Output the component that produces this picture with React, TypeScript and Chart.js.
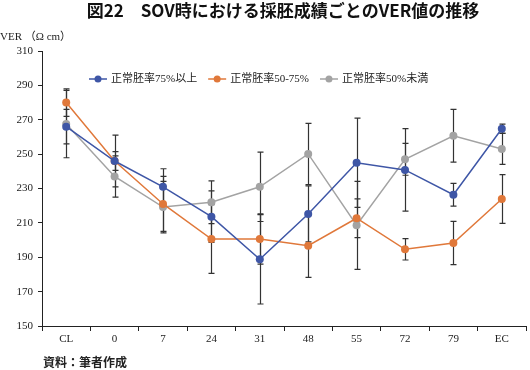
import React, { useEffect, useRef } from "react";
import { Chart, registerables } from "chart.js";

Chart.register(...registerables);

const categories = ["CL", "0", "7", "24", "31", "48", "55", "72", "79", "EC"];
const seriesNames = ["正常胚率75%以上", "正常胚率50-75%", "正常胚率50%未満"];
const highValues = [266, 246, 231, 213.6, 188.8, 215.2, 245, 240.8, 226.4, 264.8];
const highErrors = [10, 15, 10.5, 15, 26, 16.3, 26, 24, 6.6, 2.6];
const midValues = [280, 246, 221, 200.6, 200.6, 196.7, 212.7, 194.6, 198.3, 223.9];
const midErrors = [8, 5.5, 16, 20, 14.6, 18.4, 11.3, 6.2, 12.6, 14.2];
const lowValues = [267.5, 237, 219.2, 222, 231, 250.1, 208.6, 247, 260.7, 253];
const lowErrors = [19.6, 12, 15, 12.4, 20.2, 17.8, 25.6, 9.3, 15.3, 9];
const yTicks = [150, 170, 190, 210, 230, 250, 270, 290, 310];
const colors = ["#3E56A6", "#E0783A", "#A3A3A3"];

const titleText = "図22　SOV時における採胚成績ごとのVER値の推移";
const yTitleText = "VER （Ω cm）";
const sourceText = "資料：筆者作成";

const serif = "'Liberation Serif', 'Noto Sans CJK JP', serif";
const sans = "'Noto Sans CJK JP', 'Liberation Sans', sans-serif";

const errorSets = [highErrors, midErrors, lowErrors];

const errorBarPlugin = {
  id: "errorBars",
  beforeDatasetsDraw(chart: any) {
    const ctx = chart.ctx;
    const y = chart.scales.y;
    ctx.save();
    ctx.strokeStyle = "#333333";
    ctx.lineWidth = 1.2;
    chart.data.datasets.forEach((ds: any, di: number) => {
      const meta = chart.getDatasetMeta(di);
      const errs = errorSets[di];
      meta.data.forEach((pt: any, i: number) => {
        const v = ds.data[i];
        const e = errs[i];
        const x = Math.round(pt.x) + 0.5;
        const top = y.getPixelForValue(v + e);
        const bot = y.getPixelForValue(v - e);
        ctx.beginPath();
        ctx.moveTo(x, top);
        ctx.lineTo(x, bot);
        ctx.moveTo(x - 3, top);
        ctx.lineTo(x + 3, top);
        ctx.moveTo(x - 3, bot);
        ctx.lineTo(x + 3, bot);
        ctx.stroke();
      });
    });
    ctx.restore();
  },
};

const decorPlugin = {
  id: "decor",
  afterDraw(chart: any) {
    const ctx = chart.ctx;
    ctx.save();
    // title
    ctx.fillStyle = "#111111";
    ctx.font = `bold 17px ${sans}`;
    ctx.textAlign = "center";
    ctx.textBaseline = "middle";
    ctx.fillText(titleText, 283, 11);
    // y axis title
    ctx.font = `11px ${serif}`;
    ctx.textAlign = "left";
    ctx.fillStyle = "#222222";
    ctx.fillText(yTitleText, 0, 37);
    // source
    ctx.font = `bold 12px ${sans}`;
    ctx.fillText(sourceText, 43, 362);
    // legend
    ctx.font = `11px ${serif}`;
    let x = 89;
    const ly = 79;
    chart.data.datasets.forEach((ds: any, i: number) => {
      ctx.strokeStyle = colors[i];
      ctx.lineWidth = 1.5;
      ctx.beginPath();
      ctx.moveTo(x, ly);
      ctx.lineTo(x + 18, ly);
      ctx.stroke();
      ctx.fillStyle = colors[i];
      ctx.beginPath();
      ctx.arc(x + 9, ly, 3.5, 0, Math.PI * 2);
      ctx.fill();
      ctx.fillStyle = "#222222";
      ctx.fillText(ds.label, x + 22, ly);
      x += 22 + ctx.measureText(ds.label).width + 11;
    });
    ctx.restore();
  },
};

export default function App() {
  const ref = useRef<HTMLCanvasElement | null>(null);
  useEffect(() => {
    document.body.style.margin = "0";
    if (!ref.current) return;
    const mk = (label: string, data: number[], color: string) => ({
      label,
      data,
      borderColor: color,
      backgroundColor: color,
      borderWidth: 1.5,
      pointRadius: 4,
      pointBorderWidth: 0,
      pointBackgroundColor: color,
      tension: 0,
    });
    const chart = new Chart(ref.current, {
      type: "line",
      data: {
        labels: categories,
        datasets: [
          mk(seriesNames[0], highValues, colors[0]),
          mk(seriesNames[1], midValues, colors[1]),
          mk(seriesNames[2], lowValues, colors[2]),
        ],
      },
      options: {
        animation: false,
        responsive: false,
        layout: { padding: { top: 51, left: 0, right: 1, bottom: 0 } },
        plugins: {
          legend: { display: false },
          title: { display: false },
          tooltip: { enabled: false },
        },
        scales: {
          x: {
            offset: true,
            grid: {
              offset: true,
              drawOnChartArea: false,
              drawTicks: true,
              tickLength: 5,
              color: "#222222",
            },
            border: { color: "#222222", width: 1 },
            ticks: {
              color: "#222222",
              padding: 2,
              font: { family: serif, size: 11 },
              maxRotation: 0,
            },
            afterFit(scale: any) {
              scale.height = 44;
            },
          },
          y: {
            min: 150,
            max: 310,
            afterBuildTicks(scale: any) {
              scale.ticks = yTicks.map((v) => ({ value: v }));
            },
            grid: {
              drawOnChartArea: false,
              drawTicks: true,
              tickLength: 4,
              color: "#222222",
            },
            border: { color: "#222222", width: 1 },
            ticks: {
              color: "#222222",
              padding: 5,
              font: { family: serif, size: 11 },
            },
            afterFit(scale: any) {
              scale.width = 42;
            },
          },
        },
      },
      plugins: [errorBarPlugin, decorPlugin],
    } as any);
    return () => chart.destroy();
  }, []);
  return (
    <div style={{ width: 530, height: 370, position: "relative", background: "#ffffff" }}>
      <canvas ref={ref} width={530} height={370} style={{ display: "block" }} />
    </div>
  );
}
